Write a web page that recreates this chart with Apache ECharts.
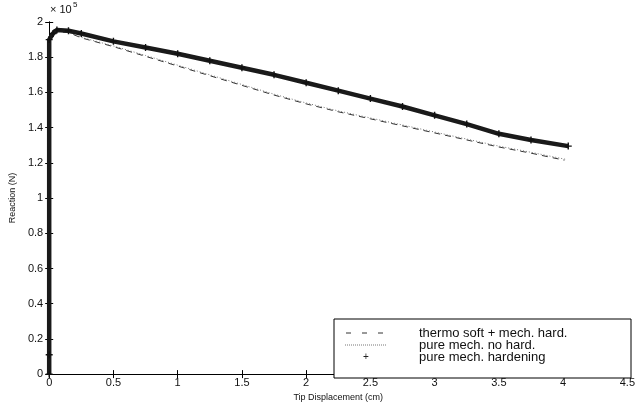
<!DOCTYPE html>
<html><head><meta charset="utf-8">
<script src="https://cdn.jsdelivr.net/npm/echarts@6/dist/echarts.min.js"></script>
<style>html,body{margin:0;padding:0;background:#fff}#c{width:638px;height:407px}</style>
</head><body><div id="c"></div>
<script>
// Values in units of 1e5 N, x in cm
const softX = [0, 0, 0.02, 0.06, 0.15, 0.25, 0.5, 0.75, 1, 1.25, 1.5, 1.75, 2, 2.25, 2.5, 2.75, 3, 3.25, 3.5, 3.75, 4.01];
const softY = [0, 1.90, 1.925, 1.945, 1.94, 1.91, 1.86, 1.805, 1.75, 1.695, 1.64, 1.585, 1.535, 1.49, 1.45, 1.41, 1.37, 1.33, 1.29, 1.255, 1.215];
const noHardX = [0, 0, 0.02, 0.06, 0.15, 0.25, 0.5, 0.75, 1, 1.25, 1.5, 1.75, 2, 2.25, 2.5, 2.75, 3, 3.25, 3.5, 3.75, 4.02];
const noHardY = [0, 1.90, 1.928, 1.948, 1.942, 1.913, 1.864, 1.81, 1.755, 1.70, 1.645, 1.59, 1.54, 1.495, 1.455, 1.415, 1.375, 1.335, 1.295, 1.26, 1.22];
const hardX = [0, 0, 0, 0.03, 0.06, 0.15, 0.25, 0.5, 0.75, 1, 1.25, 1.5, 1.75, 2, 2.25, 2.5, 2.75, 3, 3.25, 3.5, 3.75, 4.04];
const hardY = [0, 0.11, 1.90, 1.935, 1.955, 1.95, 1.935, 1.89, 1.855, 1.82, 1.78, 1.74, 1.70, 1.655, 1.61, 1.565, 1.52, 1.47, 1.42, 1.365, 1.33, 1.295];
const xTicks = [0, 0.5, 1, 1.5, 2, 2.5, 3, 3.5, 4, 4.5];
const yTicks = [0, 0.2, 0.4, 0.6, 0.8, 1, 1.2, 1.4, 1.6, 1.8, 2];
const legendNames = ['thermo soft + mech. hard.', 'pure mech. no hard.', 'pure mech. hardening'];

const zip = (a, b) => a.map((v, i) => [v, b[i]]);
const plus = 'path://M4,0L6,0L6,4L10,4L10,6L6,6L6,10L4,10L4,6L0,6L0,4L4,4Z';
const font = 'Arial, "Liberation Sans", sans-serif';
const chart = echarts.init(document.getElementById('c'));
const axisCommon = {
  axisLine: {show: true, lineStyle: {color: '#000', width: 1}},
  axisTick: {show: true, inside: true, length: 4, lineStyle: {color: '#000'}},
  splitLine: {show: false}
};
const legendX = 345, legendTextX = 419, legendRowY = [333, 345, 357];
const legendGraphics = [
  {type: 'rect', shape: {x: 334, y: 319, width: 297, height: 59}, style: {fill: '#fff', stroke: '#000', lineWidth: 1}, z: 10},
  {type: 'line', shape: {x1: legendX + 1, y1: legendRowY[0], x2: legendX + 38, y2: legendRowY[0]}, style: {stroke: '#333', lineWidth: 1, lineDash: [5, 11]}, z: 11},
  {type: 'line', shape: {x1: legendX, y1: legendRowY[1], x2: legendX + 42, y2: legendRowY[1]}, style: {stroke: '#777', lineWidth: 1, lineDash: [1, 1]}, z: 11},
  {type: 'text', x: legendX + 21, y: legendRowY[2], style: {text: '+', font: '10px ' + font, fill: '#222', align: 'center', verticalAlign: 'middle'}, z: 11}
].concat(legendNames.map((n, i) => ({type: 'text', x: legendTextX, y: legendRowY[i],
  style: {text: n, font: '13px ' + font, fill: '#111', verticalAlign: 'middle'}, z: 11})));

chart.setOption({
  animation: false,
  backgroundColor: '#fff',
  grid: {left: 48, right: 7, top: 22, bottom: 29},
  xAxis: [
    Object.assign({type: 'value', min: 0, max: 4.5, interval: 0.5, position: 'bottom',
      name: 'Tip Displacement (cm)', nameLocation: 'middle', nameGap: 13,
      nameTextStyle: {fontFamily: font, fontSize: 9, color: '#111'},
      axisLabel: {fontFamily: font, fontSize: 11, color: '#111', margin: 3,
        formatter: v => xTicks.includes(+v.toFixed(2)) ? String(+v.toFixed(2)) : ''}}, axisCommon),
    Object.assign({type: 'value', min: 0, max: 4.5, interval: 0.5, position: 'top', axisLabel: {show: false}}, axisCommon)
  ],
  yAxis: [
    Object.assign({type: 'value', min: 0, max: 2, interval: 0.2, position: 'left',
      name: 'Reaction (N)', nameLocation: 'middle', nameGap: 30, nameRotate: 90,
      nameTextStyle: {fontFamily: font, fontSize: 9, color: '#111'},
      axisLabel: {fontFamily: font, fontSize: 11, color: '#111', margin: 6,
        formatter: v => yTicks.includes(+v.toFixed(1)) ? String(+v.toFixed(1)) : ''}}, axisCommon),
    Object.assign({type: 'value', min: 0, max: 2, interval: 0.2, position: 'right', axisLabel: {show: false}}, axisCommon)
  ],
  graphic: [
    {type: 'text', left: 50, top: 4, style: {text: '× 10', font: '11px ' + font, fill: '#111'}},
    {type: 'text', left: 73, top: 1, style: {text: '5', font: '8px ' + font, fill: '#111'}}
  ].concat(legendGraphics),
  legend: {show: false},
  series: [
    {name: legendNames[0], type: 'line', data: zip(softX, softY), showSymbol: false, symbol: 'none',
      lineStyle: {color: '#333', width: 1, type: [6, 5]}, itemStyle: {color: '#333'}, z: 3},
    {name: legendNames[1], type: 'line', data: zip(noHardX, noHardY), showSymbol: false, symbol: 'none',
      lineStyle: {color: '#777', width: 1, type: [1, 2]}, itemStyle: {color: '#777'}, z: 3},
    {name: legendNames[2], type: 'line', data: zip(hardX, hardY), symbol: plus, symbolSize: 7, showSymbol: true,
      lineStyle: {color: '#1a1a1a', width: 4.5}, itemStyle: {color: '#111'}, z: 4}
  ]
});
</script></body></html>
